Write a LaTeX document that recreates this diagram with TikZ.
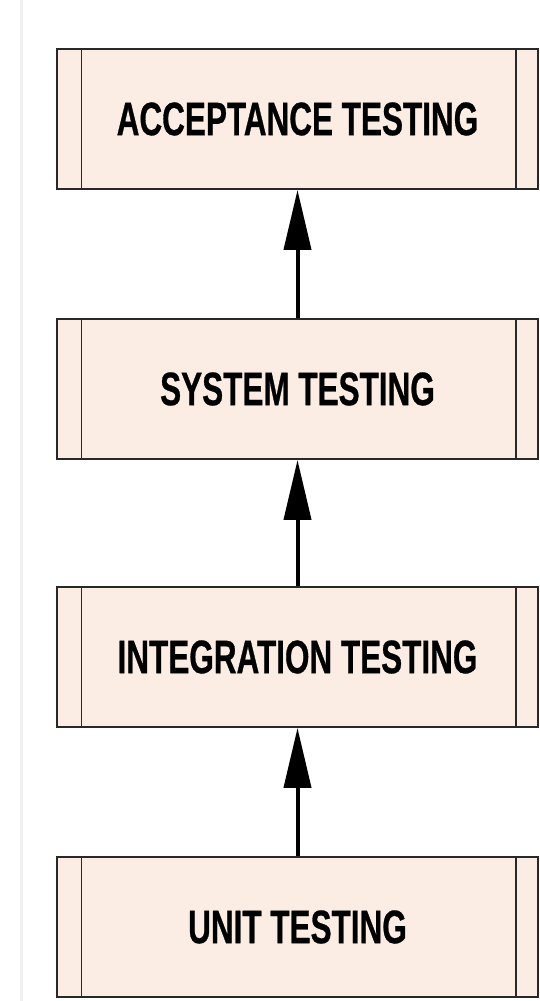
\documentclass[tikz,border=0pt]{standalone}
\usepackage{fontspec}
\usepackage{xcolor}
\usepackage{tikz}
\usetikzlibrary{arrows.meta,positioning,calc}
\newfontfamily\levelfont[FakeStretch=0.67,FakeBold=0.6]{Liberation Sans}
\definecolor{boxfill}{RGB}{252,237,228}
\definecolor{boxline}{RGB}{40,40,40}

\begin{document}
\begin{tikzpicture}[x = 1pt, y = 1pt,
    level/.style = {draw = boxline, fill = boxfill, line width = 1.8pt,
      minimum width = 481pt, minimum height = 140pt, inner sep = 0pt,
      font = \levelfont\bfseries\fontsize{47}{52}\selectfont},
    rail/.style = {draw = boxline, line width = 1.2pt},
    upflow/.style = {-{Triangle[length = 60pt, width = 27pt]}, line width = 4pt, black}]
    \useasboundingbox (0,0) rectangle (540,-1001);
    \draw[gray!12, line width = 3pt] (21,0) -- (21,-1001);
    \node[level] (acc) at (297.5,-119) {ACCEPTANCE TESTING};
    \node[level] (sys) at (297.5,-389) {SYSTEM TESTING};
    \node[level] (integ) at (297.5,-657) {INTEGRATION TESTING};
    \node[level] (unit) at (297.5,-927) {UNIT TESTING};
    \foreach \n in {acc, sys, integ, unit} {
      \draw[rail] ([xshift = 25pt]\n.north west) -- ([xshift = 25pt]\n.south west);
      \draw[rail] ([xshift = -23pt]\n.north east) -- ([xshift = -23pt]\n.south east);
    }
    \draw[upflow] (unit) -- (integ);
    \draw[upflow] (integ) -- (sys);
    \draw[upflow] (sys) -- (acc);
  \end{tikzpicture}
\end{document}
